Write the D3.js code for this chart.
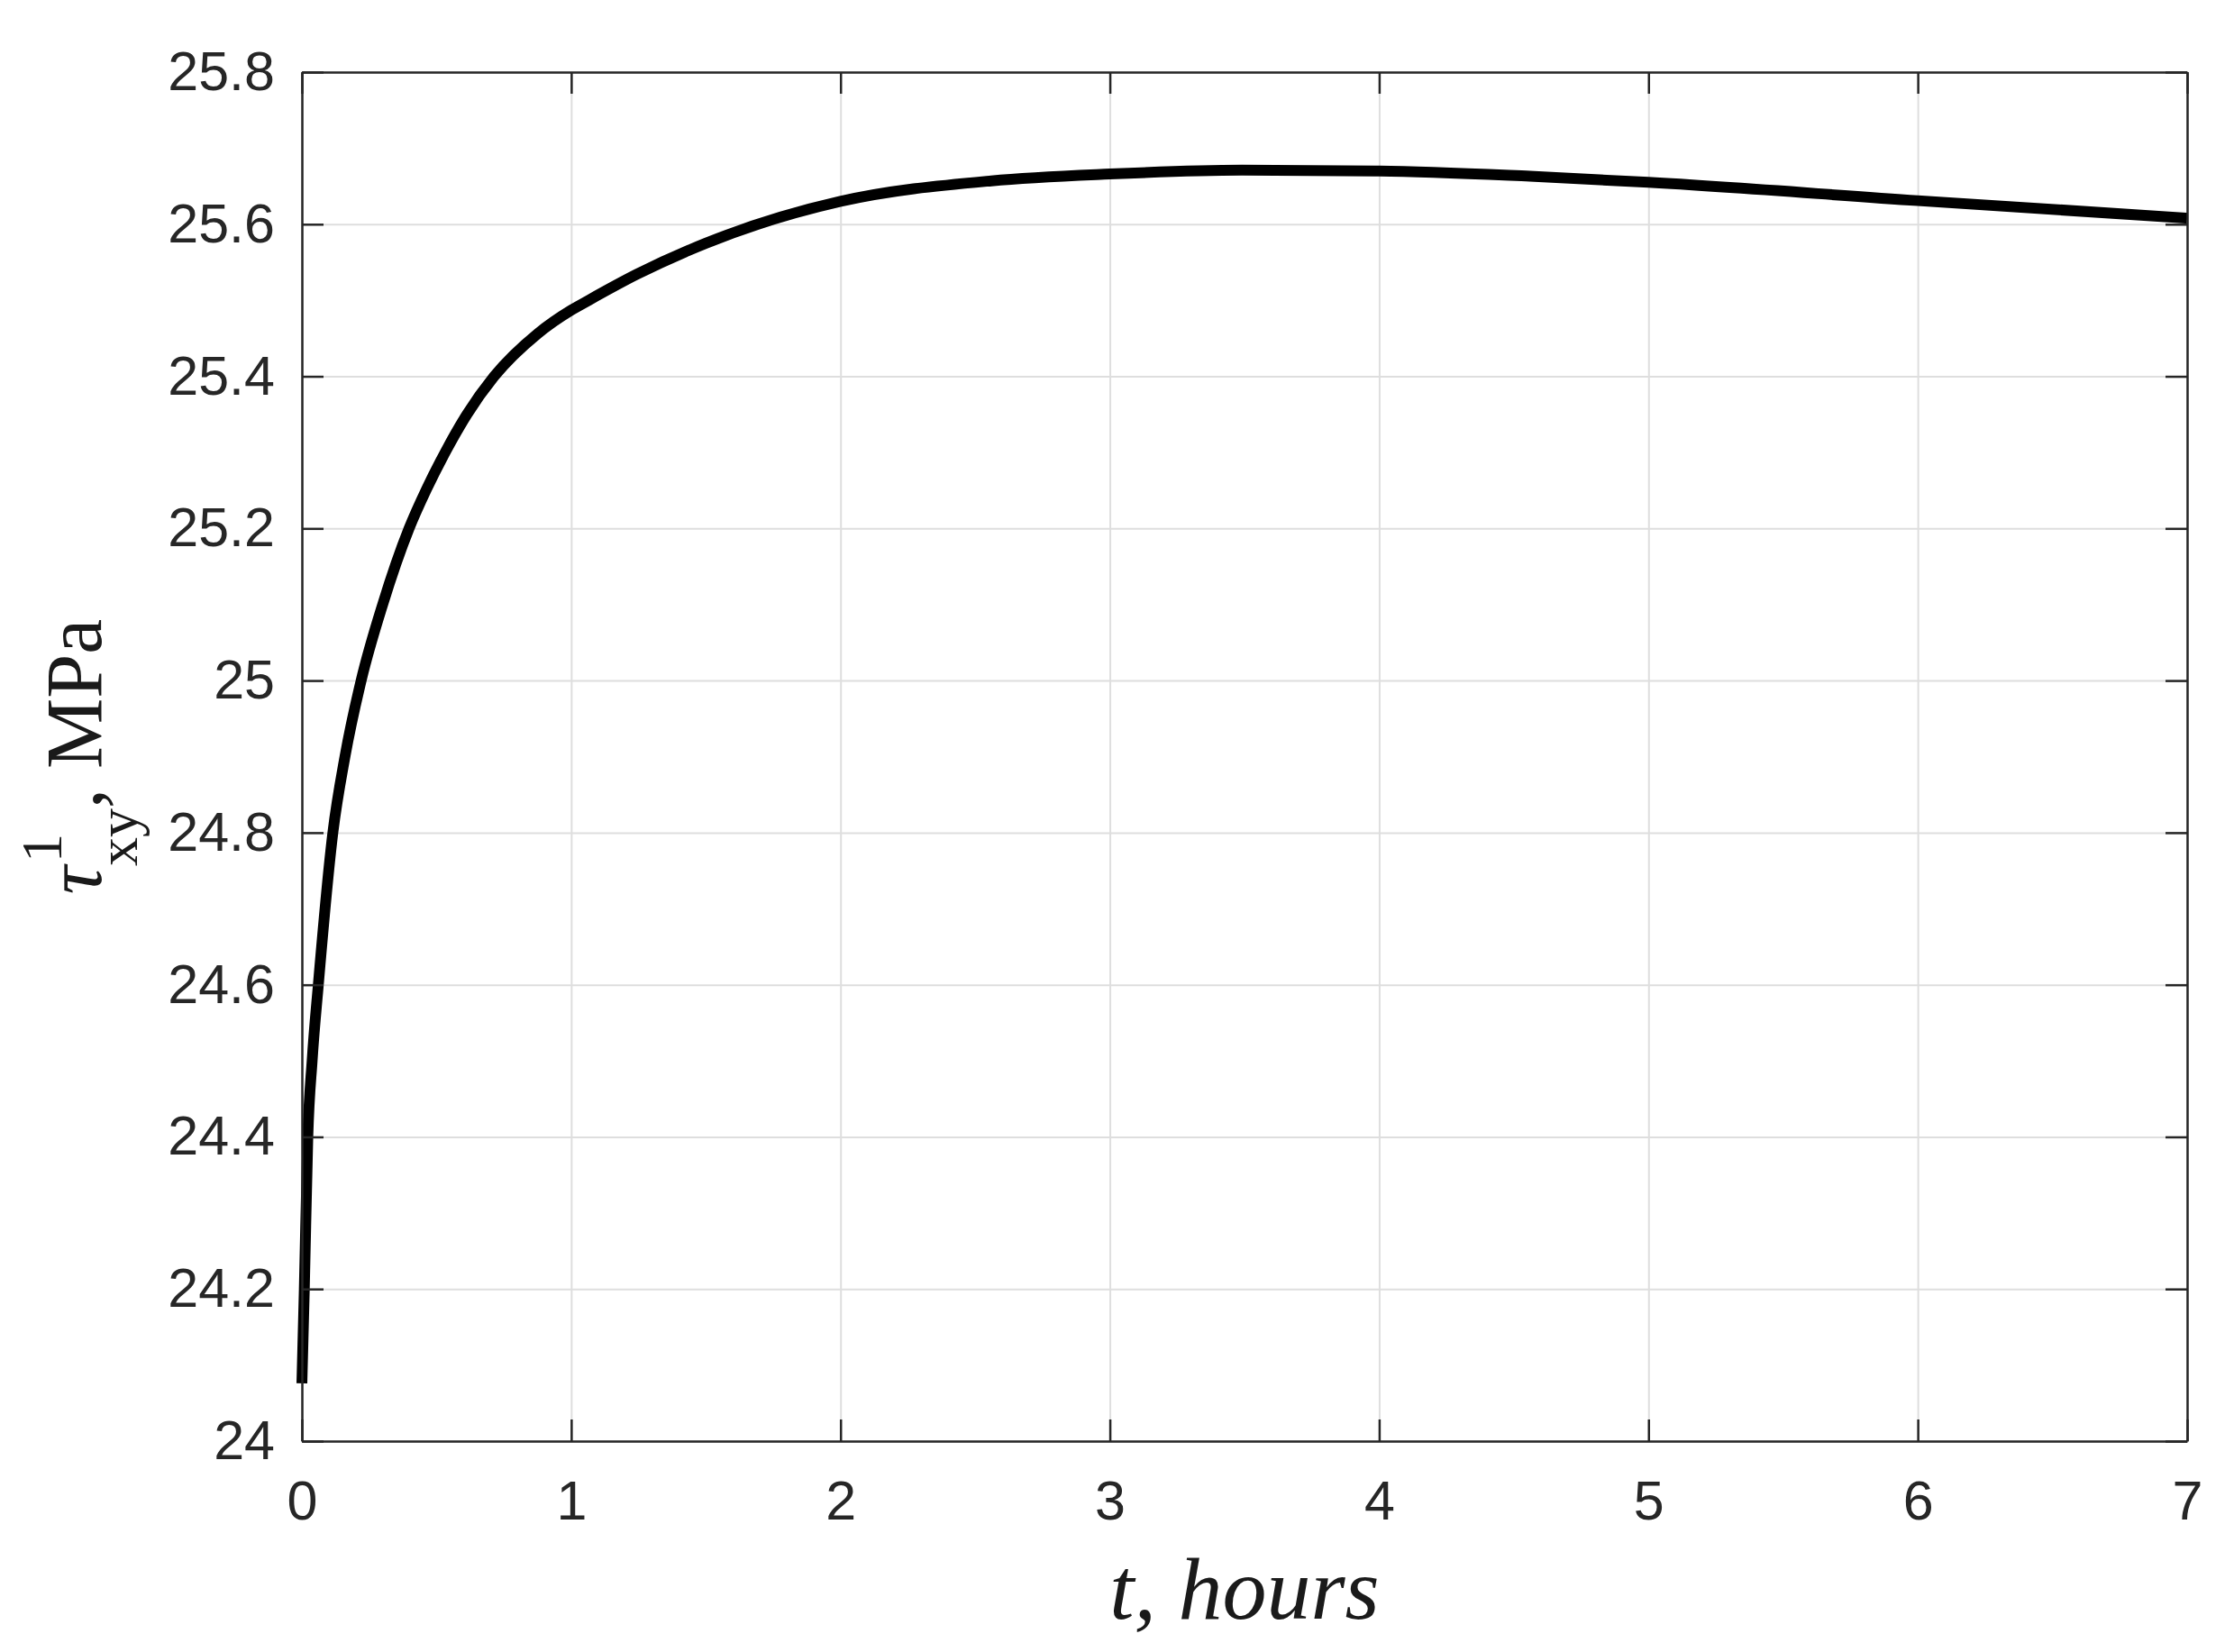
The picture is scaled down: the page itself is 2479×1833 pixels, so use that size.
<!DOCTYPE html>
<html>
<head>
<meta charset="utf-8">
<script src="https://cdn.jsdelivr.net/npm/d3@7"></script>
<style>
  html, body { margin: 0; padding: 0; background: #ffffff; }
  svg { display: block; }
</style>
</head>
<body>
<script>
// ---- data ----
const tHours = [0, 0.009, 0.022, 0.038, 0.061, 0.115, 0.160, 0.22, 0.30, 0.398, 0.462, 0.535, 0.613, 0.714, 0.875, 1.0, 1.065, 1.243, 1.5, 2.0, 2.56, 3.0, 3.49, 4.0, 4.56, 5.0, 6.0, 7.0];
const tauValues = [24.076, 24.2, 24.4, 24.5, 24.6, 24.8, 24.9, 25.0, 25.1, 25.2, 25.251, 25.302, 25.35, 25.4, 25.456, 25.487, 25.5, 25.534, 25.575, 25.630, 25.657, 25.666, 25.671, 25.670, 25.663, 25.655, 25.631, 25.608];
const xTickValues = [0, 1, 2, 3, 4, 5, 6, 7];
const xTickLabels = ["0", "1", "2", "3", "4", "5", "6", "7"];
const yTickValues = [24, 24.2, 24.4, 24.6, 24.8, 25, 25.2, 25.4, 25.6, 25.8];
const yTickLabels = ["24", "24.2", "24.4", "24.6", "24.8", "25", "25.2", "25.4", "25.6", "25.8"];

(function () {
// ---- layout ----
const W = 2479, H = 1833;
const mLeft = 335, mRight = 2427, mTop = 80, mBottom = 1599;
const iw = mRight - mLeft, ih = mBottom - mTop;
const axisColor = "#262626";
const gridColor = "#dedede";
const tickFont = "'Liberation Sans', Arial, Helvetica, sans-serif";
const labelFont = "'Liberation Serif', 'Times New Roman', Times, serif";

const svg = d3.select("body").append("svg").attr("width", W).attr("height", H);
svg.append("rect").attr("width", W).attr("height", H).attr("fill", "#fff");

const x = d3.scaleLinear().domain([0, 7]).range([0, iw]);
const y = d3.scaleLinear().domain([24, 25.8]).range([ih, 0]);

const g = svg.append("g").attr("transform", `translate(${mLeft},${mTop})`);

// grid
const gx = g.append("g").attr("transform", `translate(0,${ih})`)
  .call(d3.axisBottom(x).tickValues(xTickValues).tickSize(-ih).tickFormat(""));
gx.select(".domain").remove();
gx.selectAll("line").attr("stroke", gridColor).attr("stroke-width", 2);
const gy = g.append("g")
  .call(d3.axisLeft(y).tickValues(yTickValues).tickSize(-iw).tickFormat(""));
gy.select(".domain").remove();
gy.selectAll("line").attr("stroke", gridColor).attr("stroke-width", 2);

// data line
const pts = tHours.map((t, i) => [t, tauValues[i]]);
g.append("path")
  .datum(pts)
  .attr("fill", "none")
  .attr("stroke", "#000")
  .attr("stroke-width", 12)
  .attr("stroke-linecap", "butt")
  .attr("stroke-linejoin", "round")
  .attr("d", d3.line().x(d => x(d[0])).y(d => y(d[1])).curve(d3.curveMonotoneX));

// axes (ticks inward, box)
function styleAxis(sel) {
  sel.select(".domain").attr("stroke", axisColor).attr("stroke-width", 2.5);
  sel.selectAll(".tick line").attr("stroke", axisColor).attr("stroke-width", 2.5);
  sel.selectAll(".tick text").attr("fill", axisColor)
    .style("font-family", tickFont).style("font-size", "61px");
}
const axB = g.append("g").attr("transform", `translate(0,${ih})`)
  .call(d3.axisBottom(x).tickValues(xTickValues).tickSizeInner(-24).tickSizeOuter(0).tickPadding(44)
    .tickFormat((d, i) => xTickLabels[i]));
styleAxis(axB);
const axL = g.append("g")
  .call(d3.axisLeft(y).tickValues(yTickValues).tickSizeInner(-24).tickSizeOuter(0).tickPadding(30)
    .tickFormat((d, i) => yTickLabels[i]));
styleAxis(axL);
const axT = g.append("g")
  .call(d3.axisTop(x).tickValues(xTickValues).tickSizeInner(-24).tickSizeOuter(0).tickFormat(""));
styleAxis(axT);
const axR = g.append("g").attr("transform", `translate(${iw},0)`)
  .call(d3.axisRight(y).tickValues(yTickValues).tickSizeInner(-24).tickSizeOuter(0).tickFormat(""));
styleAxis(axR);

// x label
svg.append("text")
  .attr("x", mLeft + iw / 2).attr("y", 1796)
  .attr("text-anchor", "middle")
  .style("font-family", labelFont).style("font-style", "italic").style("font-size", "98px")
  .attr("fill", "#1a1a1a")
  .text("t, hours");

// y label: τ^1_xy, MPa
const yl = svg.append("text")
  .attr("transform", `translate(112,${mTop + ih / 2}) rotate(-90)`)
  .attr("text-anchor", "middle")
  .style("font-family", labelFont).style("font-size", "88px")
  .attr("fill", "#1a1a1a");
yl.append("tspan").style("font-style", "italic").text("τ");
yl.append("tspan").attr("dx", 4).attr("dy", -44).style("font-size", "64px").text("1");
yl.append("tspan").attr("dx", -36).attr("dy", 84).style("font-size", "64px").text("xy");
yl.append("tspan").attr("dy", -40).text(", MPa");
})();
</script>
</body>
</html>
